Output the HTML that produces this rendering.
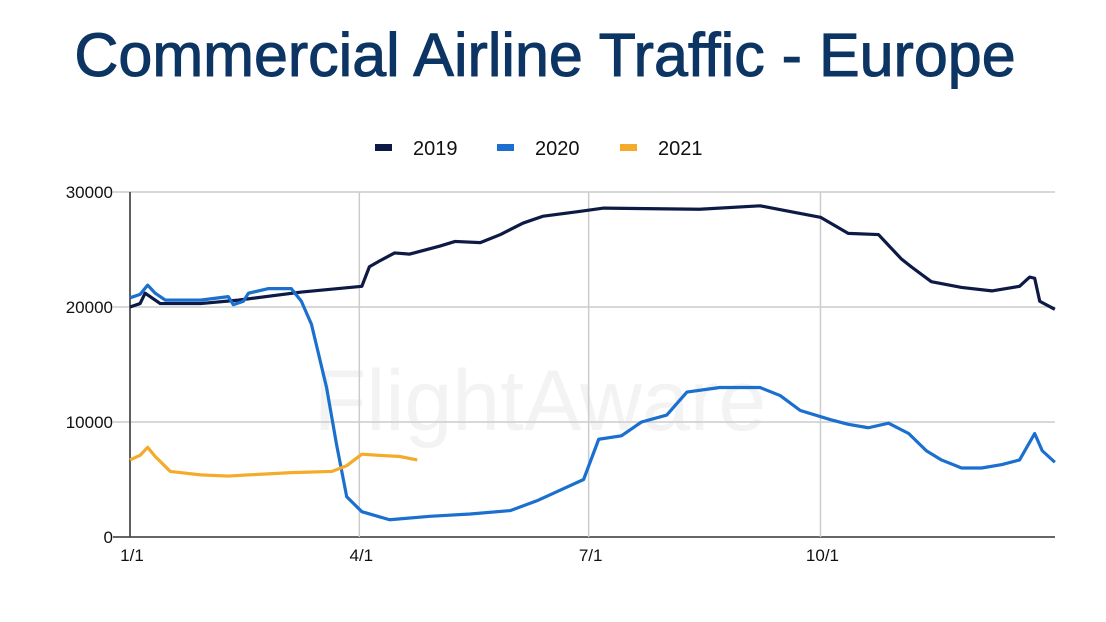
<!DOCTYPE html>
<html><head><meta charset="utf-8">
<style>
body{margin:0;background:#fff;width:1106px;height:622px;overflow:hidden;font-family:"Liberation Sans",sans-serif;}
#title{position:absolute;left:0;width:1090px;top:20px;text-align:center;font-size:61px;color:#0d3563;-webkit-text-stroke:1px #0d3563;}
</style></head><body>
<div id="title">Commercial Airline Traffic - Europe</div>
<svg id="chart" width="1106" height="622" style="position:absolute;left:0;top:0"></svg>
<script>
const yTicks=[0,10000,20000,30000];
const xTickDays=[0,91,182,274];
const xTickLabels=["1/1","4/1","7/1","10/1"];
const seriesNames=["2019","2020","2021"];
const seriesColors=["#0c1a45","#1a6fcf","#f5ab2a"];
const days2019=[0,4,6,12,28,43,68,92,95,99,105,111,123,129,139,147,156,164,178,188,226,250,262,274,285,297,306,310,318,330,342,353,357,359,361,367];
const vals2019=[20000,20300,21200,20300,20300,20600,21300,21800,23500,24000,24700,24600,25300,25700,25600,26300,27300,27900,28300,28600,28500,28800,28300,27800,26400,26300,24200,23500,22200,21700,21400,21800,22600,22500,20500,19800];
const days2020=[0,4,7,10,14,28,39,41,45,47,55,64,68,72,78,82,86,92,103,119,135,151,162,172,180,186,195,203,213,221,234,250,258,266,278,285,293,301,309,316,322,330,338,346,353,359,362,367];
const vals2020=[20800,21100,21900,21200,20600,20600,20900,20200,20500,21200,21600,21600,20500,18500,13000,8000,3500,2200,1500,1800,2000,2300,3200,4200,5000,8500,8800,10000,10600,12600,13000,13000,12300,11000,10200,9800,9500,9900,9000,7500,6700,6000,6000,6300,6700,9000,7500,6500];
const days2021=[0,4,7,10,16,28,39,47,64,80,86,92,99,107,114];
const vals2021=[6700,7100,7800,7000,5700,5400,5300,5400,5600,5700,6200,7200,7100,7000,6700];

const NS="http://www.w3.org/2000/svg";
const svg=document.getElementById('chart');
const X0=130,X1=1055,Y0=537,Y1=192,PXD=2.52;
const xs=d=>X0+PXD*d;
const ys=v=>Y0-(Y0-Y1)*v/30000;
function mk(t,a){const e=document.createElementNS(NS,t);for(const k in a)e.setAttribute(k,a[k]);svg.appendChild(e);return e;}

const wm=mk('text',{x:540,y:430,'font-size':86,fill:'#f3f3f3','text-anchor':'middle','font-family':'Liberation Sans, sans-serif'});
wm.textContent='FlightAware';



yTicks.forEach(v=>{
  const l=mk('line',{x1:113,x2:X1,y1:ys(v),y2:ys(v),stroke:v===0?'#333':'#cccccc','stroke-width':1.5});
  
  
  const t=mk('text',{x:113,y:ys(v)+6,'font-size':17,fill:'#111','text-anchor':'end'});
  t.textContent=v;
  
  
});
xTickDays.forEach((d,i)=>{
  const l=mk('line',{x1:xs(d),x2:xs(d),y1:Y1,y2:Y0,stroke:'#cccccc','stroke-width':1.5});
  
  
  const t=mk('text',{x:xs(d)+2,y:Y0+24,'font-size':17,fill:'#111','text-anchor':'middle'});
  t.textContent=xTickLabels[i];
  
  
});
const ax=mk('line',{x1:X0,x2:X0,y1:Y1,y2:Y0,stroke:'#333','stroke-width':1.5});



const allDays=[days2019,days2020,days2021],allVals=[vals2019,vals2020,vals2021];
allDays.forEach((ds,i)=>{
  const p=mk('polyline',{points:ds.map((d,j)=>Math.min(X1,xs(d))+','+ys(allVals[i][j])).join(' '),fill:'none',stroke:seriesColors[i],'stroke-width':3.2,'stroke-linejoin':'round'});
  
  
});
const lx=[375,497,620];
seriesNames.forEach((n,i)=>{
  const r=mk('rect',{x:lx[i],y:144,width:17,height:7,fill:seriesColors[i]});
  
  
  const t=mk('text',{x:lx[i]+38,y:155,'font-size':20,fill:'#111'});
  t.textContent=n;
  
  
});
</script>
</body></html>
